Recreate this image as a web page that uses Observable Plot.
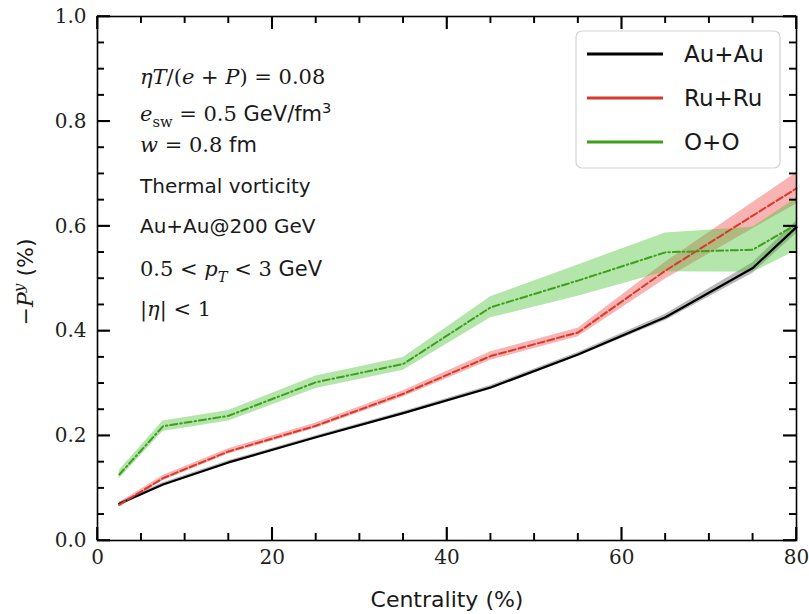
<!DOCTYPE html>
<html>
<head>
<meta charset="utf-8">
<script src="https://cdn.jsdelivr.net/npm/d3@7"></script>
<script src="https://cdn.jsdelivr.net/npm/@observablehq/plot@0.6"></script>
<style>
  html, body { margin: 0; padding: 0; background: #fff; }
  #chart { width: 809px; height: 614px; position: relative; }
</style>
</head>
<body>
<div id="chart"></div>
<script>
// ---- data ----
const centrality = [2.5, 7.5, 15, 25, 35, 45, 55, 65, 75, 80];
const seriesNames = ["Au+Au", "Ru+Ru", "O+O"];
const auau    = [0.070, 0.107, 0.149, 0.197, 0.243, 0.292, 0.355, 0.426, 0.520, 0.598];
const auauErr = [0.003, 0.003, 0.003, 0.003, 0.003, 0.004, 0.004, 0.006, 0.010, 0.012];
const ruru    = [0.068, 0.119, 0.170, 0.219, 0.280, 0.352, 0.397, 0.515, 0.620, 0.672];
const ruruErr = [0.004, 0.005, 0.005, 0.005, 0.006, 0.008, 0.008, 0.016, 0.025, 0.030];
const oo      = [0.126, 0.218, 0.238, 0.302, 0.337, 0.445, 0.496, 0.550, 0.555, 0.603];
const ooErr   = [0.008, 0.010, 0.010, 0.012, 0.012, 0.020, 0.030, 0.037, 0.043, 0.050];
const xMajorTicks = [0, 20, 40, 60, 80];
const xMinorTicks = [5, 10, 15, 25, 30, 35, 45, 50, 55, 65, 70, 75];
const yMajorTicks = [0, 0.2, 0.4, 0.6, 0.8, 1.0];
const yMinorTicks = [0.05, 0.1, 0.15, 0.25, 0.3, 0.35, 0.45, 0.5, 0.55, 0.65, 0.7, 0.75, 0.85, 0.9, 0.95];

const styles = {
  "Au+Au": {stroke: "#000000", fill: "#000000", fillOpacity: 0.28, dash: null, width: 2.2},
  "Ru+Ru": {stroke: "#d8392b", fill: "#ee4040", fillOpacity: 0.40, dash: "7,3", width: 2},
  "O+O":   {stroke: "#3d9f1a", fill: "#4cc038", fillOpacity: 0.42, dash: "7,3,1.5,3", width: 2}
};
const values = {"Au+Au": [auau, auauErr], "Ru+Ru": [ruru, ruruErr], "O+O": [oo, ooErr]};

const rows = seriesNames.flatMap(name => centrality.map((c, i) => ({
  series: name, c, v: values[name][0][i],
  lo: values[name][0][i] - values[name][1][i],
  hi: values[name][0][i] + values[name][1][i]
})));

const serif = "'DejaVu Serif', serif";
const sans = "'DejaVu Sans', sans-serif";

const W = 809, H = 614, mL = 97, mR = 13, mT = 16, mB = 74;
const innerW = W - mL - mR, innerH = H - mT - mB;

const marks = [];
for (const name of seriesNames) {
  const s = styles[name];
  const data = rows.filter(d => d.series === name);
  marks.push(Plot.areaY(data, {x: "c", y1: "lo", y2: "hi", fill: s.fill, fillOpacity: s.fillOpacity}));
}
for (const name of seriesNames) {
  const s = styles[name];
  const data = rows.filter(d => d.series === name);
  marks.push(Plot.line(data, {x: "c", y: "v", stroke: s.stroke, strokeWidth: s.width, strokeDasharray: s.dash}));
}

// inward ticks on all four sides: full-frame rules shortened with insets
const MAJ = 13, MIN = 7;
marks.push(
  Plot.ruleX(xMajorTicks, {x: d => d, insetTop: innerH - MAJ, stroke: "#000", strokeWidth: 1.6}),
  Plot.ruleX(xMinorTicks, {x: d => d, insetTop: innerH - MIN, stroke: "#000", strokeWidth: 1.4}),
  Plot.ruleX(xMajorTicks, {x: d => d, insetBottom: innerH - MAJ, stroke: "#000", strokeWidth: 1.6}),
  Plot.ruleX(xMinorTicks, {x: d => d, insetBottom: innerH - MIN, stroke: "#000", strokeWidth: 1.4}),
  Plot.ruleY(yMajorTicks, {y: d => d, insetRight: innerW - MAJ, stroke: "#000", strokeWidth: 1.6}),
  Plot.ruleY(yMinorTicks, {y: d => d, insetRight: innerW - MIN, stroke: "#000", strokeWidth: 1.4}),
  Plot.ruleY(yMajorTicks, {y: d => d, insetLeft: innerW - MAJ, stroke: "#000", strokeWidth: 1.6}),
  Plot.ruleY(yMinorTicks, {y: d => d, insetLeft: innerW - MIN, stroke: "#000", strokeWidth: 1.4})
);
const tickFont = {fontFamily: serif, fontSize: 20};
marks.push(
  Plot.axisX({anchor: "bottom", ticks: xMajorTicks, tickSize: 0, tickPadding: 9, tickFormat: d => String(d), label: null, ...tickFont}),
  Plot.axisY({anchor: "left", ticks: yMajorTicks, tickSize: 0, tickPadding: 11, tickFormat: d3.format(".1f"), label: null, ...tickFont}),
  Plot.frame({stroke: "#000", strokeWidth: 1.6})
);

const chart = Plot.plot({
  width: W, height: H,
  marginLeft: mL, marginRight: mR, marginTop: mT, marginBottom: mB,
  x: {domain: [0, 80]},
  y: {domain: [0, 1]},
  style: {background: "#fff", color: "#222"},
  marks
});
document.getElementById("chart").appendChild(chart);

// ---- annotations, axis labels and legend drawn into the svg ----
const svg = d3.select(chart);

// extra inward tick strokes placed with the plot's own scales
const xs = chart.scale("x"), ys = chart.scale("y");
const tg = svg.append("g").attr("stroke", "#000");
const x0 = xs.apply(0), x1 = xs.apply(80), y0 = ys.apply(0), y1 = ys.apply(1);
for (const [list, len, w] of [[xMajorTicks, MAJ, 1.6], [xMinorTicks, MIN, 1.4]]) {
  for (const t of list) {
    const px = xs.apply(t);
    tg.append("line").attr("x1", px).attr("x2", px).attr("y1", y0).attr("y2", y0 - len).attr("stroke-width", w);
    tg.append("line").attr("x1", px).attr("x2", px).attr("y1", y1).attr("y2", y1 + len).attr("stroke-width", w);
  }
}
for (const [list, len, w] of [[yMajorTicks, MAJ, 1.6], [yMinorTicks, MIN, 1.4]]) {
  for (const t of list) {
    const py = ys.apply(t);
    tg.append("line").attr("y1", py).attr("y2", py).attr("x1", x0).attr("x2", x0 + len).attr("stroke-width", w);
    tg.append("line").attr("y1", py).attr("y2", py).attr("x1", x1).attr("x2", x1 - len).attr("stroke-width", w);
  }
}

function richText(g, x, y, parts, size, anchor = "start") {
  const t = g.append("text").attr("x", x).attr("y", y).attr("font-size", size)
    .attr("fill", "#1a1a1a").attr("text-anchor", anchor);
  let shift = 0;
  for (const p of parts) {
    const [txt, opt = {}] = p;
    const ts = t.append("tspan").text(txt);
    ts.attr("font-family", opt.sans ? sans : serif);
    if (opt.it) ts.attr("font-style", "italic");
    let target = 0, fs = size;
    if (opt.sub) { target = size * 0.28; fs = size * 0.7; }
    if (opt.sup) { target = -size * 0.4; fs = size * 0.7; }
    ts.attr("font-size", fs);
    if (target !== shift) { ts.attr("dy", target - shift); shift = target; }
  }
  return t;
}
const ann = svg.append("g");
const A = 21;
richText(ann, 140, 84, [["η", {it: 1}], ["T", {it: 1}], ["/("], ["e", {it: 1}], [" + "], ["P", {it: 1}], [") = 0.08"]], A);
richText(ann, 140, 121, [["e", {it: 1}], ["sw", {sub: 1}], [" = 0.5 "], ["GeV/fm", {sans: 1}], ["3", {sans: 1, sup: 1}]], A);
richText(ann, 140, 152, [["w", {it: 1}], [" = 0.8 "], ["fm", {sans: 1}]], A);
richText(ann, 140, 193, [["Thermal vorticity", {sans: 1}]], 20);
richText(ann, 140, 233, [["Au+Au@200 GeV", {sans: 1}]], 20);
richText(ann, 140, 276, [["0.5 < "], ["p", {it: 1}], ["T", {it: 1, sub: 1}], [" < 3 "], ["GeV", {sans: 1}]], A);
richText(ann, 140, 316, [["|"], ["η", {it: 1}], ["| < 1"]], A);

// axis labels
richText(svg, 447, 607, [["Centrality (%)", {sans: 1}]], 22, "middle");
const yl = richText(svg, 0, 0, [["−"], ["P", {it: 1}], ["y", {it: 1, sup: 1}], [" (%)", {sans: 1}]], 22, "middle");
yl.attr("transform", "translate(33,282) rotate(-90)");

// legend
const lg = svg.append("g");
lg.append("rect").attr("x", 576).attr("y", 31).attr("width", 204).attr("height", 137)
  .attr("rx", 6).attr("fill", "#fff").attr("fill-opacity", 0.85).attr("stroke", "#d4d4d4").attr("stroke-width", 1.2);
seriesNames.forEach((name, i) => {
  const y = 54 + i * 44;
  lg.append("line").attr("x1", 587).attr("x2", 663).attr("y1", y).attr("y2", y)
    .attr("stroke", styles[name].stroke).attr("stroke-width", 3);
  lg.append("text").attr("x", 684).attr("y", y + 8).attr("font-family", sans).attr("font-size", 23)
    .attr("text-anchor", "start").attr("fill", "#1a1a1a").text(name);
});
</script>
</body>
</html>
